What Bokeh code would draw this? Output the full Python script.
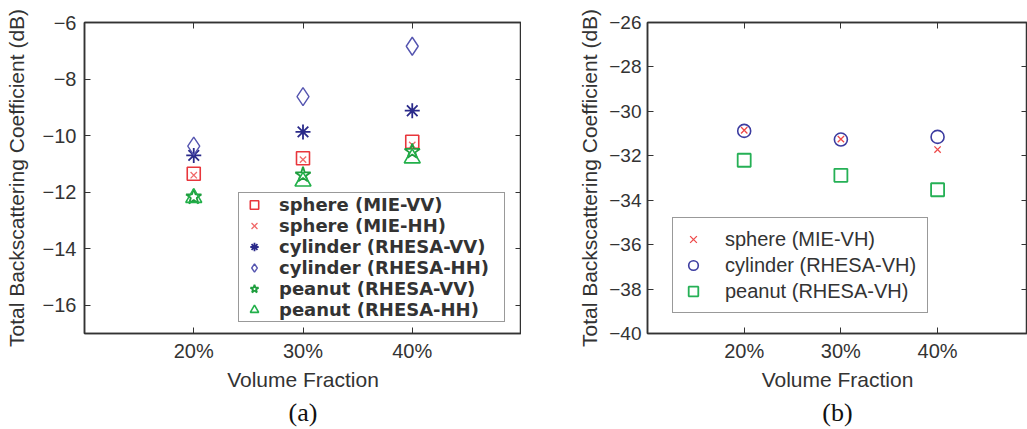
from bokeh.plotting import figure
from bokeh.layouts import row
from bokeh.models import LinearAxis, FixedTicker, Legend, LegendItem, Title, Range1d
from bokeh.embed import file_html
from bokeh.resources import INLINE

# ---------------- data ----------------
volume_fraction = [20, 30, 40]
tick_labels = ["20%", "30%", "40%"]

# panel (a): co-polarised
sphere_mie_vv = [-11.35, -10.80, -10.22]
sphere_mie_hh = [-11.40, -10.85, -10.33]
cylinder_rhesa_vv = [-10.70, -9.87, -9.12]
cylinder_rhesa_hh = [-10.37, -8.62, -6.84]
peanut_rhesa_vv = [-12.17, -11.39, -10.56]
peanut_rhesa_hh = [-12.20, -11.62, -10.80]

# panel (b): cross-polarised
sphere_mie_vh = [-30.85, -31.25, -31.72]
cylinder_rhesa_vh = [-30.88, -31.27, -31.15]
peanut_rhesa_vh = [-32.20, -32.88, -33.53]

y_ticks_a = [-16, -14, -12, -10, -8, -6]
y_ticks_b = [-40, -38, -36, -34, -32, -30, -28, -26]

x_label = "Volume Fraction"
y_label = "Total Backscattering Coefficient (dB)"

AX = "#333333"
LABEL_FONT = "Liberation Sans"


def style_axes(p, yticks):
    overrides = {v: t for v, t in zip(volume_fraction, tick_labels)}
    p.xaxis.ticker = FixedTicker(ticks=volume_fraction)
    p.xaxis.major_label_overrides = overrides
    p.yaxis.ticker = FixedTicker(ticks=yticks)
    for ax in [p.xaxis[0], p.yaxis[0]]:
        ax.major_tick_in = 6
        ax.major_tick_out = 0
        ax.minor_tick_line_color = None
        ax.axis_line_color = AX
        ax.axis_line_width = 1.5
        ax.major_tick_line_color = AX
        ax.major_label_text_font = LABEL_FONT
        ax.major_label_text_font_size = "20px"
        ax.major_label_text_color = "#333333"
        ax.axis_label_text_font = LABEL_FONT
        ax.axis_label_text_font_size = "21px"
        ax.axis_label_text_font_style = "normal"
        ax.axis_label_text_color = "#333333"
    p.xaxis.axis_label = x_label
    p.yaxis.axis_label = y_label
    p.xaxis.major_label_standoff = 6
    p.xaxis.axis_label_standoff = 3
    p.yaxis.major_label_standoff = 8
    p.yaxis.axis_label_standoff = 12
    # mirrored tick axes (top / right), ticks only
    top = LinearAxis(ticker=FixedTicker(ticks=volume_fraction))
    right = LinearAxis(ticker=FixedTicker(ticks=yticks))
    for ax in (top, right):
        ax.major_tick_in = 6
        ax.major_tick_out = 0
        ax.minor_tick_line_color = None
        ax.axis_line_color = AX
        ax.axis_line_width = 1.5
        ax.major_tick_line_color = AX
        ax.major_label_text_font_size = "1px"
        ax.major_label_text_color = None
        ax.major_label_standoff = 0
    p.add_layout(top, "above")
    p.add_layout(right, "right")
    p.xgrid.grid_line_color = None
    p.ygrid.grid_line_color = None
    p.outline_line_color = AX
    p.outline_line_width = 1.5


def caption(text):
    return Title(text=text, align="center", text_font="Liberation Serif",
                 text_font_size="26px", text_font_style="normal",
                 text_color="#111111", standoff=5)


# ---------------- panel (a) ----------------
pa = figure(width=521, height=429, output_backend="svg", toolbar_location=None,
            x_range=Range1d(10, 50), y_range=Range1d(-17, -6),
            min_border_left=84, min_border_right=0, min_border_top=22, min_border_bottom=96)
style_axes(pa, y_ticks_a)

r1 = pa.scatter(volume_fraction, sphere_mie_vv, marker="square", size=13,
                fill_color=None, line_color="#e8363c", line_width=1.6)
r2 = pa.scatter(volume_fraction, sphere_mie_hh, marker="x", size=9,
                line_color="#f06a6a", line_width=1.3)
r3 = pa.scatter(volume_fraction, cylinder_rhesa_vv, marker="asterisk", size=15,
                line_color="#2a2a8a", line_width=1.8)
r4 = pa.scatter(volume_fraction, cylinder_rhesa_hh, marker="diamond", size=18,
                fill_color=None, line_color="#5555b0", line_width=1.4)
r5 = pa.scatter(volume_fraction, peanut_rhesa_vv, marker="star", size=16,
                fill_color=None, line_color="#1f9e3e", line_width=1.8)
r6 = pa.scatter(volume_fraction, peanut_rhesa_hh, marker="triangle", size=16,
                fill_color=None, line_color="#22b04a", line_width=1.6)

leg_a = Legend(items=[
    LegendItem(label="sphere (MIE-VV)", renderers=[r1]),
    LegendItem(label="sphere (MIE-HH)", renderers=[r2]),
    LegendItem(label="cylinder (RHESA-VV)", renderers=[r3]),
    LegendItem(label="cylinder (RHESA-HH)", renderers=[r4]),
    LegendItem(label="peanut (RHESA-VV)", renderers=[r5]),
    LegendItem(label="peanut (RHESA-HH)", renderers=[r6]),
], location=(154, 11), padding=1, margin=0, spacing=0,
    glyph_width=28, glyph_height=21, label_height=21, label_standoff=11,
    label_width=224,
    label_text_font="DejaVu Sans", label_text_font_style="bold",
    label_text_font_size="18px", label_text_color="#333333",
    border_line_color="#333333", border_line_width=1.5,
    background_fill_color="white", background_fill_alpha=1.0)
pa.add_layout(leg_a, "center")
pa.add_layout(caption("(a)"), "below")

# ---------------- panel (b) ----------------
pb = figure(width=506, height=429, output_backend="svg", toolbar_location=None,
            x_range=Range1d(10, 49.3), y_range=Range1d(-40, -26),
            min_border_left=126, min_border_right=0, min_border_top=22, min_border_bottom=96)
style_axes(pb, y_ticks_b)
pb.yaxis[0].major_label_text_font_size = "19px"
pb.yaxis[0].major_label_standoff = 6
pb.yaxis[0].axis_label_standoff = 5

s1 = pb.scatter(volume_fraction, sphere_mie_vh, marker="x", size=9,
                line_color="#ee4a4a", line_width=1.3)
s2 = pb.scatter(volume_fraction, cylinder_rhesa_vh, marker="circle", size=13,
                fill_color=None, line_color="#3c3ca0", line_width=1.6)
s3 = pb.scatter(volume_fraction, peanut_rhesa_vh, marker="square", size=13,
                fill_color=None, line_color="#25b055", line_width=1.8)
# keep the red crosses above the circles
pb.renderers.remove(s1)
pb.renderers.append(s1)

leg_b = Legend(items=[
    LegendItem(label="sphere (MIE-VH)", renderers=[s1]),
    LegendItem(label="cylinder (RHESA-VH)", renderers=[s2]),
    LegendItem(label="peanut (RHESA-VH)", renderers=[s3]),
], location=(25, 20), padding=8, margin=0, spacing=0,
    glyph_width=24, glyph_height=26, label_height=26, label_standoff=20,
    label_width=194,
    label_text_font=LABEL_FONT, label_text_font_size="20px",
    label_text_color="#333333",
    border_line_color="#333333", border_line_width=1.5,
    background_fill_color="white", background_fill_alpha=1.0)
pb.add_layout(leg_b, "center")
pb.add_layout(caption("(b)"), "below")

layout = row(pa, pb, spacing=0)
open("out.html", "w").write(file_html(layout, INLINE))
